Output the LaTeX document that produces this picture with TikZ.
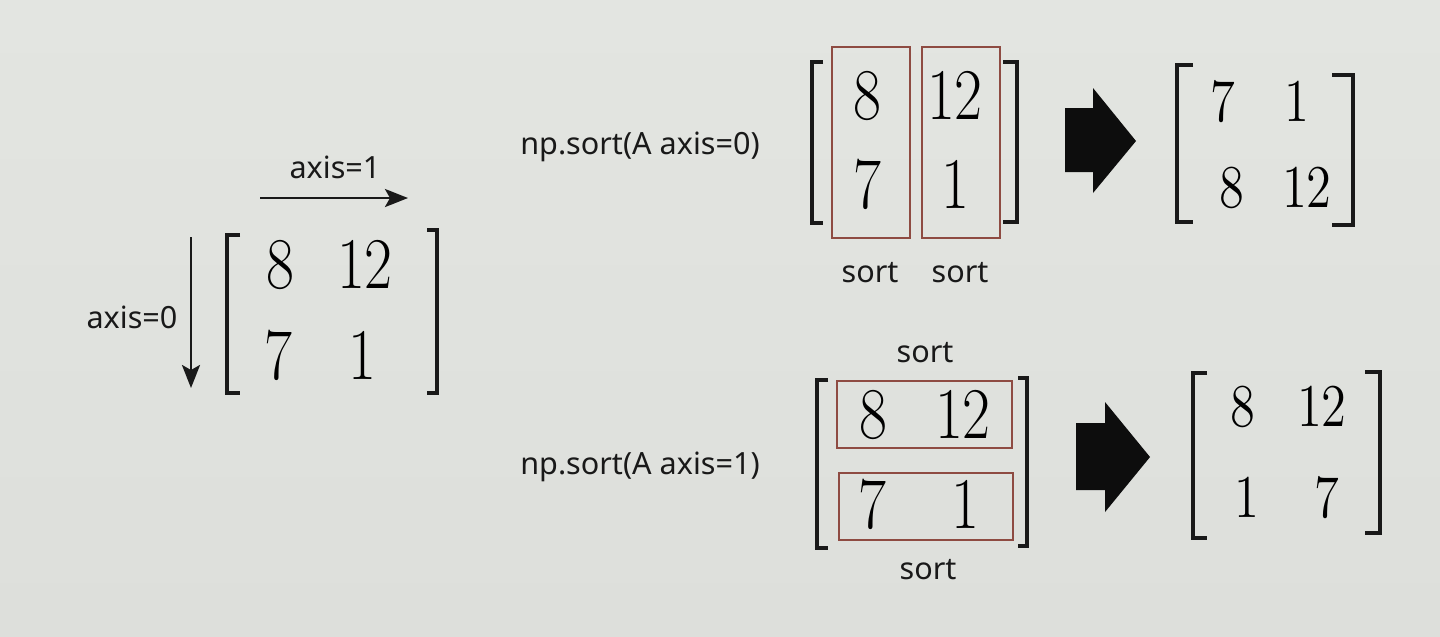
\documentclass[tikz,border=0pt]{standalone}
\usepackage{fontspec}
\newfontfamily\labelfont{Noto Sans}
\usetikzlibrary{arrows.meta}

\definecolor{paper}{HTML}{DDDFDB}
\definecolor{papertop}{HTML}{E3E5E1}
\definecolor{boxred}{HTML}{8E4B42}
\newcommand{\tallnum}[1]{\scalebox{1}[1.2]{$#1$}}

\begin{document}
\begin{tikzpicture}[
    x=0.1mm, y=-0.1mm,
    numL/.style={inner sep=0pt, font=\fontsize{17.5}{17.5}\selectfont},
    numM/.style={inner sep=0pt, font=\fontsize{18}{18}\selectfont},
    numR/.style={inner sep=0pt, font=\fontsize{15.5}{15.5}\selectfont},
    label/.style={inner sep=0pt, font=\labelfont\fontsize{8.7}{10}\selectfont, text=black!90},
    bracket/.style={line width=0.9pt, draw=black!90},
    sortbox/.style={draw=boxred, line width=0.75pt},
    axisarrow/.style={-{Stealth[length=2.3mm,width=1.8mm,inset=0.5mm]}, line width=0.8pt, draw=black!90},
    fatarrow/.style={fill=black!95}
]

% Paper
\shade[top color=papertop, bottom color=paper] (0,0) rectangle (1440,636);
\useasboundingbox (0,0) rectangle (1440,636);

% Input matrix with axis directions
\node[label] (ax1) at (335,167) {axis=1};
\coordinate (ax1s) at (260,198);
\coordinate (ax1e) at (408,198);
\draw[axisarrow] (ax1s) -- (ax1e);

\node[label] (ax0) at (132,317) {axis=0};
\coordinate (ax0s) at (191,237);
\coordinate (ax0e) at (191,388);
\draw[axisarrow] (ax0s) -- (ax0e);

\draw[bracket] (240,235) -- (227,235) -- (227,393) -- (240,393);
\draw[bracket] (427,230) -- (437,230) -- (437,393) -- (427,393);
\node[numL] (a11) at (280,265) {\tallnum{8}};
\node[numL] (a12) at (365,265) {\tallnum{12}};
\node[numL] (a21) at (278,356) {\tallnum{7}};
\node[numL] (a22) at (362,356) {\tallnum{1}};

% Sort along axis=0
\node[label] (sort0) at (640,147) {np.sort(A axis=0)};
\draw[bracket] (823,62) -- (812,62) -- (812,223) -- (823,223);
\draw[bracket] (1003,62) -- (1017,62) -- (1017,222) -- (1003,222);
\draw[sortbox] (832,47) rectangle (910,238);
\draw[sortbox] (922,47) rectangle (1000,238);
\node[numM] (b11) at (867,96) {\tallnum{8}};
\node[numM] (b12) at (955,96) {\tallnum{12}};
\node[numM] (b21) at (867,185) {\tallnum{7}};
\node[numM] (b22) at (955,185) {\tallnum{1}};
\node[label] (bs1) at (870,273) {sort};
\node[label] (bs2) at (960,273) {sort};

\fill[fatarrow] (1065,108) -- (1093,108) -- (1093,88) -- (1136,141)
    -- (1093,193) -- (1093,172) -- (1065,172) -- cycle;

\draw[bracket] (1193,65) -- (1177,65) -- (1177,222) -- (1193,222);
\draw[bracket] (1332,75) -- (1353,75) -- (1353,225) -- (1332,225);
\node[numR] (c11) at (1223,102) {\tallnum{7}};
\node[numR] (c12) at (1297,102) {\tallnum{1}};
\node[numR] (c21) at (1232,188) {\tallnum{8}};
\node[numR] (c22) at (1307,188) {\tallnum{12}};

% Sort along axis=1
\node[label] (sort1) at (640,467) {np.sort(A axis=1)};
\node[label] (ds1) at (925,353) {sort};
\draw[bracket] (828,380) -- (817,380) -- (817,548) -- (828,548);
\draw[bracket] (1018,378) -- (1027,378) -- (1027,546) -- (1018,546);
\draw[sortbox] (837,381) rectangle (1012,448);
\draw[sortbox] (839,473) rectangle (1013,540);
\node[numM] (d11) at (873,415) {\tallnum{8}};
\node[numM] (d12) at (963,415) {\tallnum{12}};
\node[numM] (d21) at (872,505) {\tallnum{7}};
\node[numM] (d22) at (965,505) {\tallnum{1}};
\node[label] (ds2) at (928,570) {sort};

\fill[fatarrow] (1076,423) -- (1105,423) -- (1105,402) -- (1150,457)
    -- (1105,512) -- (1105,490) -- (1076,490) -- cycle;

\draw[bracket] (1207,373) -- (1193,373) -- (1193,538) -- (1207,538);
\draw[bracket] (1365,372) -- (1380,372) -- (1380,533) -- (1365,533);
\node[numR] (e11) at (1243,407) {\tallnum{8}};
\node[numR] (e12) at (1322,407) {\tallnum{12}};
\node[numR] (e21) at (1247,498) {\tallnum{1}};
\node[numR] (e22) at (1327,498) {\tallnum{7}};

\end{tikzpicture}
\end{document}
